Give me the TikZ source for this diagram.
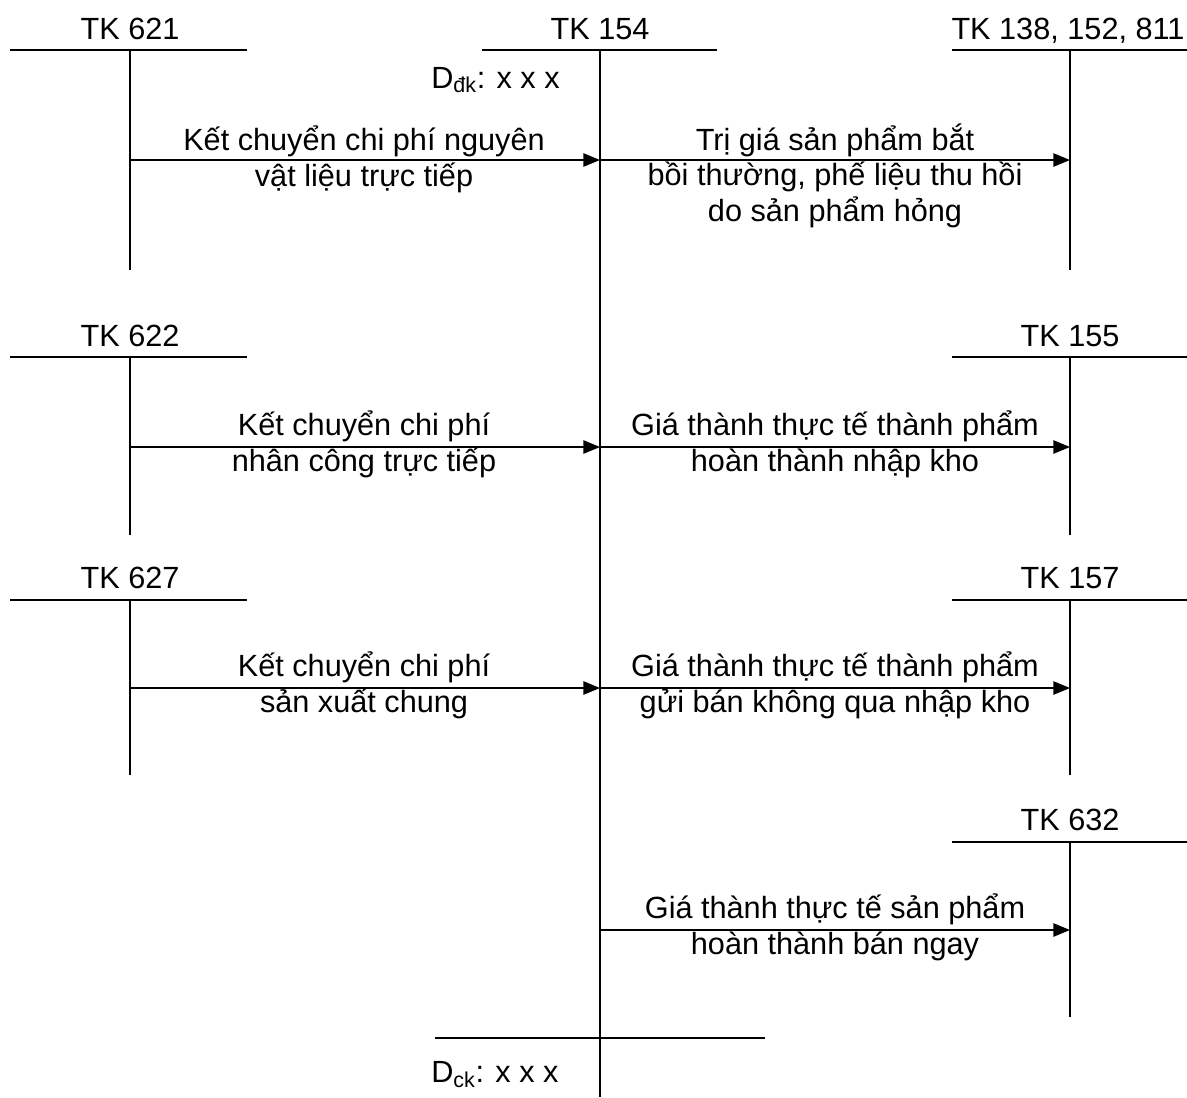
\documentclass[tikz,border=0pt]{standalone}
\usepackage{fontspec}
\setmainfont{Liberation Sans}
\usetikzlibrary{arrows.meta}
\begin{document}
\begin{tikzpicture}[x=0.75pt,y=-0.75pt,
  rule/.style={line width=1.1pt},
  flow/.style={line width=1.1pt,-{Triangle[length=12.5pt,width=10pt]}},
  acct/.style={font=\fontsize{23}{26.3}\selectfont, inner sep=0pt, anchor=base},
  lbl/.style={font=\fontsize{23}{26.3}\selectfont, align=center, inner sep=0pt, anchor=base},
]
\useasboundingbox (0,0) rectangle (1187,1097);

% account titles
\node[acct] (t621) at (130,39) {TK 621};
\node[acct] (t154) at (600,39) {TK 154};
\node[acct] (t138) at (1068,39) {TK 138, 152, 811};
\node[acct] (t622) at (130,346) {TK 622};
\node[acct] (t155) at (1070,346) {TK 155};
\node[acct] (t627) at (130,588) {TK 627};
\node[acct] (t157) at (1070,588) {TK 157};
\node[acct] (t632) at (1070,830) {TK 632};

% T-account rules
\draw[rule] (10,50) -- (247,50);
\draw[rule] (130,50) -- (130,270);
\draw[rule] (482,50) -- (717,50);
\draw[rule] (600,50) -- (600,1097);
\draw[rule] (952,50) -- (1187,50);
\draw[rule] (1070,50) -- (1070,270);

\draw[rule] (10,357) -- (247,357);
\draw[rule] (130,357) -- (130,535);
\draw[rule] (952,357) -- (1187,357);
\draw[rule] (1070,357) -- (1070,535);

\draw[rule] (10,600) -- (247,600);
\draw[rule] (130,600) -- (130,775);
\draw[rule] (952,600) -- (1187,600);
\draw[rule] (1070,600) -- (1070,775);

\draw[rule] (952,842) -- (1187,842);
\draw[rule] (1070,842) -- (1070,1017);

\draw[rule] (435,1038) -- (765,1038);

% opening and closing balances
\node[acct,anchor=base west] (dk) at (431,88) {D\textsubscript{đk}: x x x};
\node[acct,anchor=base west] (ck) at (431,1082) {D\textsubscript{ck}: x x x};

% connection points on the accounts
\coordinate (s621) at (130,160);
\coordinate (e154a) at (600,160);
\coordinate (e138) at (1070,160);
\coordinate (s622) at (130,447);
\coordinate (e154b) at (600,447);
\coordinate (e155) at (1070,447);
\coordinate (s627) at (130,688);
\coordinate (e154c) at (600,688);
\coordinate (e157) at (1070,688);
\coordinate (s154d) at (600,930);
\coordinate (e632) at (1070,930);

% postings
\draw[flow] (s621) -- (e154a);
\draw[flow] (e154a) -- (e138);
\draw[flow] (s622) -- (e154b);
\draw[flow] (e154b) -- (e155);
\draw[flow] (s627) -- (e154c);
\draw[flow] (e154c) -- (e157);
\draw[flow] (s154d) -- (e632);

% posting descriptions (anchored on the baseline of their last line)
\node[lbl] (l1) at (364,186) {Kết chuyển chi phí nguyên\\vật liệu trực tiếp};
\node[lbl] (l2) at (835,221) {Trị giá sản phẩm bắt\\bồi thường, phế liệu thu hồi\\do sản phẩm hỏng};
\node[lbl] (l3) at (364,471) {Kết chuyển chi phí\\nhân công trực tiếp};
\node[lbl] (l4) at (835,471) {Giá thành thực tế thành phẩm\\hoàn thành nhập kho};
\node[lbl] (l5) at (364,712) {Kết chuyển chi phí\\sản xuất chung};
\node[lbl] (l6) at (835,712) {Giá thành thực tế thành phẩm\\gửi bán không qua nhập kho};
\node[lbl] (l7) at (835,954) {Giá thành thực tế sản phẩm\\hoàn thành bán ngay};
\end{tikzpicture}
\end{document}
